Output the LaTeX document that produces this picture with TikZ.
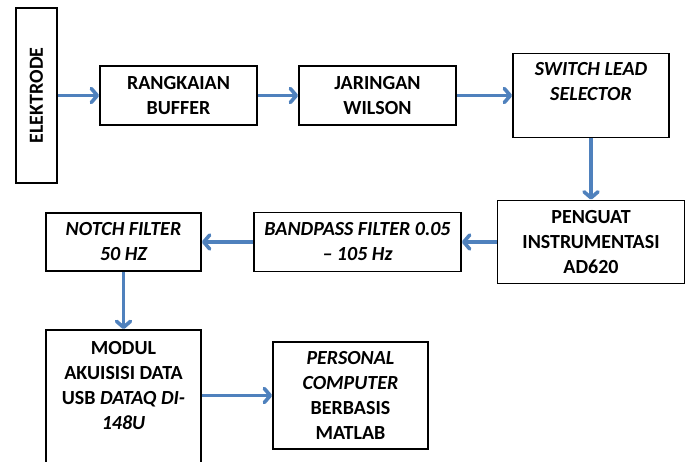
\documentclass[tikz,border=0pt]{standalone}
\usepackage{fontspec}
\setmainfont{Carlito}
\usetikzlibrary{arrows.meta}
\definecolor{flowblue}{RGB}{79,129,189}

\begin{document}
\begin{tikzpicture}[x=1pt,y=-1pt,font=\fontsize{20}{25}\selectfont\bfseries]
% Styles
\tikzstyle{block}=[draw=black,line width=1.8pt,align=center,inner sep=0pt]
\tikzstyle{caption}=[align=center,inner sep=0pt]
\tikzstyle{flow}=[draw=flowblue,line width=3.6pt,-{Straight Barb[length=6pt,width=14pt,round]}]

% Page (the last box runs off the bottom edge)
\clip (0,0) rectangle (692,461);

% First row
\node[block,rotate=90,minimum width=175pt,minimum height=41pt] (elek) at (36.5,95.5) {ELEKTRODE};
\node[block,minimum width=157pt,minimum height=59pt] (buf) at (178.5,95.5) {RANGKAIAN\\BUFFER};
\node[block,minimum width=157pt,minimum height=59pt] (wil) at (377.5,95.5) {JARINGAN\\WILSON};
\node[block,minimum width=156pt,minimum height=84pt] (sls) at (591,95.5) {};
\node[caption,anchor=north] (slstext) at ([yshift=-10pt]sls.north) {\itshape SWITCH LEAD\\\itshape SELECTOR};

% Second row
\node[block,minimum width=187pt,minimum height=83pt] (peng) at (591,242) {PENGUAT\\INSTRUMENTASI\\AD620};
\node[block,minimum width=207pt,minimum height=59pt] (bpf) at (357.5,242) {\itshape BANDPASS FILTER 0.05\\\itshape -- 105 Hz};
\node[block,minimum width=155pt,minimum height=58pt] (notch) at (123.5,242) {\itshape NOTCH FILTER\\\itshape 50 HZ};

% Third row
\node[block,minimum width=155pt,minimum height=150pt] (modul) at (123.5,405) {};
\node[caption,anchor=north] (modultext) at ([yshift=-12pt]modul.north) {MODUL\\AKUISISI DATA\\USB \textit{DATAQ DI-}\\\itshape 148U};
\node[block,minimum width=155pt,minimum height=107pt] (pc) at (350.5,395.5) {\itshape PERSONAL\\\itshape COMPUTER\\BERBASIS\\MATLAB};

% Signal flow
\draw[flow] (elek) -- (buf);
\draw[flow] (buf) -- (wil);
\draw[flow] (wil) -- (sls);
\draw[flow] (sls) -- (peng);
\draw[flow] (peng) -- (bpf);
\draw[flow] (bpf) -- (notch);
\draw[flow] (notch) -- (modul);
\draw[flow] (modul.east |- pc) -- (pc);
\end{tikzpicture}
\end{document}
